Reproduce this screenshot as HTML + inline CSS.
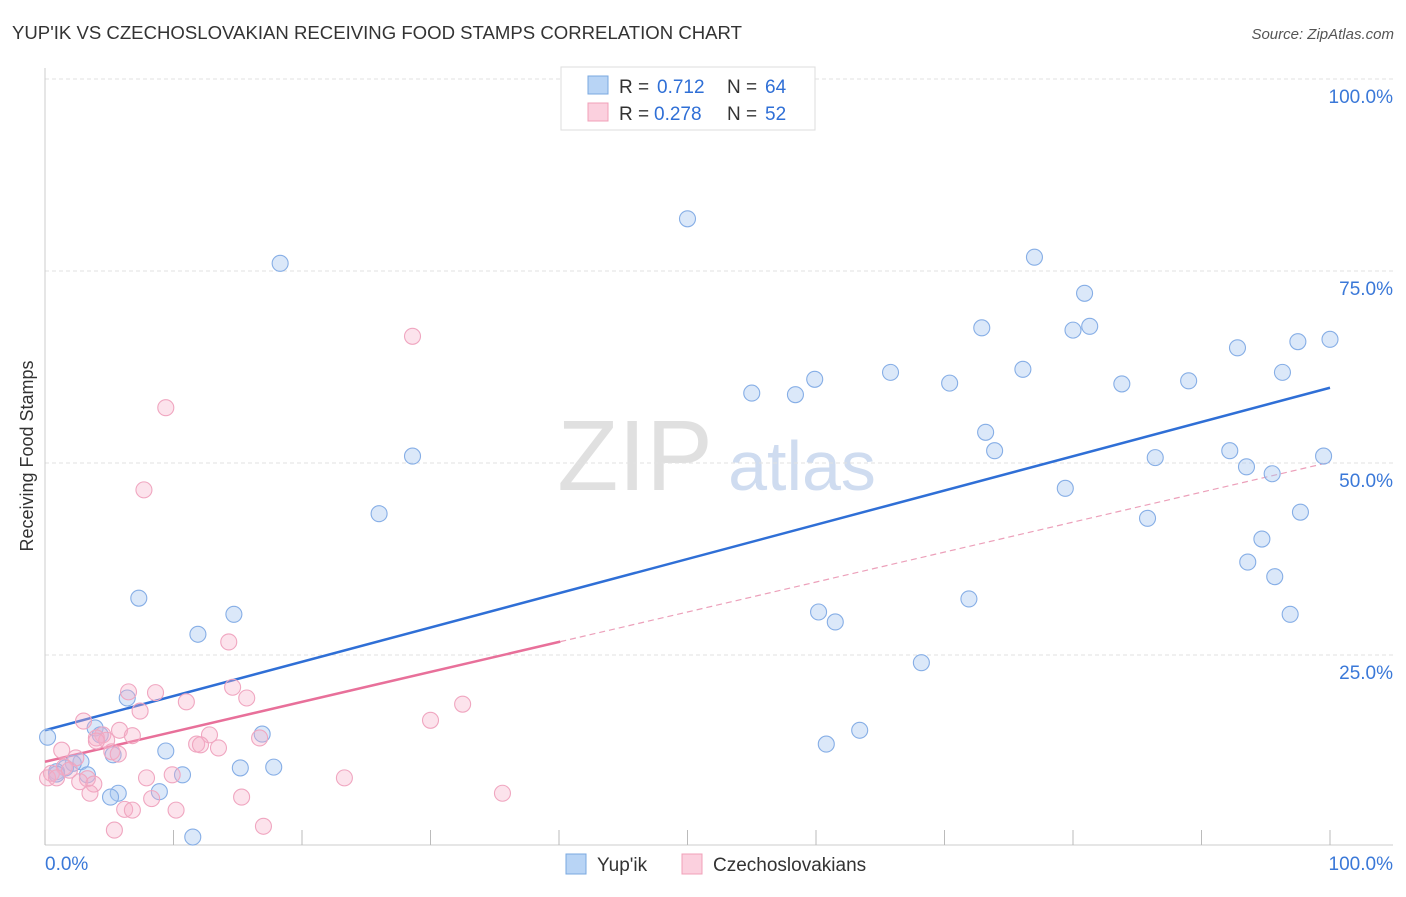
<!DOCTYPE html>
<html><head><meta charset="utf-8"><style>
body{margin:0;background:#fff;font-family:"Liberation Sans",sans-serif;}
svg text{font-family:"Liberation Sans",sans-serif;}
</style></head><body>
<svg id="chart" width="1406" height="892">
<text x="12" y="39" font-size="18" fill="#333" textLength="730" lengthAdjust="spacingAndGlyphs">YUP'IK VS CZECHOSLOVAKIAN RECEIVING FOOD STAMPS CORRELATION CHART</text>
<text x="1394" y="39" font-size="15" fill="#555" font-style="italic" text-anchor="end">Source: ZipAtlas.com</text>
<text transform="translate(33,456) rotate(-90)" font-size="18" fill="#333" text-anchor="middle">Receiving Food Stamps</text>
<g>
<text x="635" y="490" font-size="100" fill="#e0e0e0" font-family="Liberation Serif" text-anchor="middle">ZIP</text>
<text x="802" y="490" font-size="70" fill="#cfdcf0" text-anchor="middle">atlas</text>
</g>
<g id="grid"></g><g id="axes"></g><g id="lines"></g><g id="pts"></g>
<g>
<rect x="561" y="67" width="254" height="63" fill="#fff" stroke="#ddd"/>
<rect x="588" y="76" width="20" height="18" fill="#b8d4f5" stroke="#7aa8e0"/>
<text x="619" y="93" font-size="19" fill="#333">R =</text>
<text x="657" y="93" font-size="19" fill="#2f6fd6">0.712</text>
<text x="727" y="93" font-size="19" fill="#333">N =</text>
<text x="765" y="93" font-size="19" fill="#2f6fd6">64</text>
<rect x="588" y="103" width="20" height="18" fill="#fbd0de" stroke="#f0a0b8"/>
<text x="619" y="120" font-size="19" fill="#333">R =</text>
<text x="654" y="120" font-size="19" fill="#2f6fd6">0.278</text>
<text x="727" y="120" font-size="19" fill="#333">N =</text>
<text x="765" y="120" font-size="19" fill="#2f6fd6">52</text>
</g>
<g>
<rect x="566" y="854" width="20" height="20" fill="#b8d4f5" stroke="#7aa8e0"/>
<text x="597" y="871" font-size="19" fill="#333">Yup'ik</text>
<rect x="682" y="854" width="20" height="20" fill="#fbd0de" stroke="#f0a0b8"/>
<text x="713" y="871" font-size="19" fill="#333">Czechoslovakians</text>
</g>
</svg>
<script>
const blueX=[50.0,18.3,77.0,80.9,72.9,80.0,81.3,100,97.5,92.8,65.8,76.1,96.3,55.0,58.4,59.9,70.4,83.8,89.0,73.2,73.9,28.6,86.4,92.2,93.5,95.5,99.5,79.4,26.0,85.8,97.7,94.7,93.6,95.7,7.3,14.7,71.9,60.2,61.5,96.9,11.9,68.2,6.4,0.2,3.9,4.3,16.9,5.3,9.4,63.4,60.8,2.8,2.2,1.6,0.9,3.3,10.7,15.2,17.8,5.7,5.1,8.9,11.5,0.9];
const blueY=[81.8,76.0,76.8,72.1,67.6,67.3,67.8,66.1,65.8,65.0,61.8,62.2,61.8,59.1,58.9,60.9,60.4,60.3,60.7,54.0,51.6,50.9,50.7,51.6,49.5,48.6,50.9,46.7,43.4,42.8,43.6,40.1,37.1,35.2,32.4,30.3,32.3,30.6,29.3,30.3,27.7,24.0,19.4,14.3,15.5,14.6,14.7,12.0,12.5,15.2,13.4,11.1,10.9,10.3,9.8,9.4,9.4,10.3,10.4,7.0,6.5,7.2,1.3,9.5];
const pinkX=[28.6,9.4,7.7,14.3,6.5,8.6,14.6,11.0,15.7,7.4,3.0,5.8,4.5,6.8,4.0,4.8,12.8,16.7,11.8,12.1,13.5,4.0,1.3,2.4,5.2,5.7,30.0,32.5,23.3,35.6,1.5,0.5,0.2,3.3,0.9,2.7,3.8,9.9,7.9,3.5,8.3,15.3,6.2,6.8,10.2,17.0,5.4,1.9];
const pinkY=[66.5,57.2,46.5,26.7,20.2,20.1,20.8,18.9,19.4,17.7,16.4,15.2,14.6,14.5,14.2,13.9,14.6,14.2,13.4,13.3,12.9,13.8,12.6,11.6,12.4,12.1,16.5,18.6,9.0,7.0,10.4,9.6,9.0,8.9,9.0,8.5,8.2,9.4,9.0,7.0,6.3,6.5,4.9,4.8,4.8,2.7,2.2,10.0];
const blueFit=[15.2,59.8];
const pinkFit=[11.1,50.1];
const pinkSolidEnd=40.1;
const yTicks=[25,50,75,100];
const yTickLabels=["25.0%","50.0%","75.0%","100.0%"];
const xTicks=[0,10,20,30,40,50,60,70,80,90,100];

const NS="http://www.w3.org/2000/svg";
const sx=v=>45+v*12.85, sy=v=>847-v*7.68;
function mk(tag,attrs,parent){const e=document.createElementNS(NS,tag);for(const k in attrs)e.setAttribute(k,attrs[k]);document.getElementById(parent).appendChild(e);return e;}
yTicks.forEach((t,i)=>{
 let g=mk('line',{x1:45,x2:1393,y1:sy(t),y2:sy(t),stroke:'#e2e2e2','stroke-dasharray':'4,3'},'grid');
 
 
 let l=mk('text',{x:1393,y:sy(t)+24,'font-size':19,fill:'#3a78d8','text-anchor':'end'},'grid');
 l.textContent=yTickLabels[i];
 
 
});
let ax=mk('line',{x1:45,x2:1393,y1:845,y2:845,stroke:'#ccc'},'axes');


let ay=mk('line',{x1:45,x2:45,y1:68,y2:845,stroke:'#ccc'},'axes');


xTicks.forEach(t=>{
 let k=mk('line',{x1:sx(t),x2:sx(t),y1:830,y2:845,stroke:'#bbb'},'axes');
 
 
});
[[0,"0.0%",'start',45],[100,"100.0%",'end',1393]].forEach(a=>{
 let t=mk('text',{x:a[3],y:870,'font-size':19,fill:'#3a78d8','text-anchor':a[2]},'axes');
 t.textContent=a[1];
 
 
});
function dot(x,y,f,s,n){const c=mk('circle',{cx:sx(x),cy:sy(y),r:8,fill:f,stroke:s,'stroke-width':1.1},'pts');
 
 }
blueX.forEach((x,i)=>dot(x,blueY[i],'rgba(165,198,240,0.4)','#86aee6','yupik-point'));
pinkX.forEach((x,i)=>dot(x,pinkY[i],'rgba(247,176,200,0.35)','#f0a6c0','czech-point'));
const pf=x=>pinkFit[0]+(pinkFit[1]-pinkFit[0])*x/100;
let bl=mk('line',{x1:sx(0),y1:sy(blueFit[0]),x2:sx(100),y2:sy(blueFit[1]),stroke:'#2f6fd6','stroke-width':2.5},'lines');


let pl=mk('line',{x1:sx(0),y1:sy(pf(0)),x2:sx(pinkSolidEnd),y2:sy(pf(pinkSolidEnd)),stroke:'#e8709a','stroke-width':2.5},'lines');


let pd=mk('line',{x1:sx(pinkSolidEnd),y1:sy(pf(pinkSolidEnd)),x2:sx(100),y2:sy(pf(100)),stroke:'#eca0ba','stroke-width':1.2,'stroke-dasharray':'6,4'},'lines');


</script>
</body></html>
